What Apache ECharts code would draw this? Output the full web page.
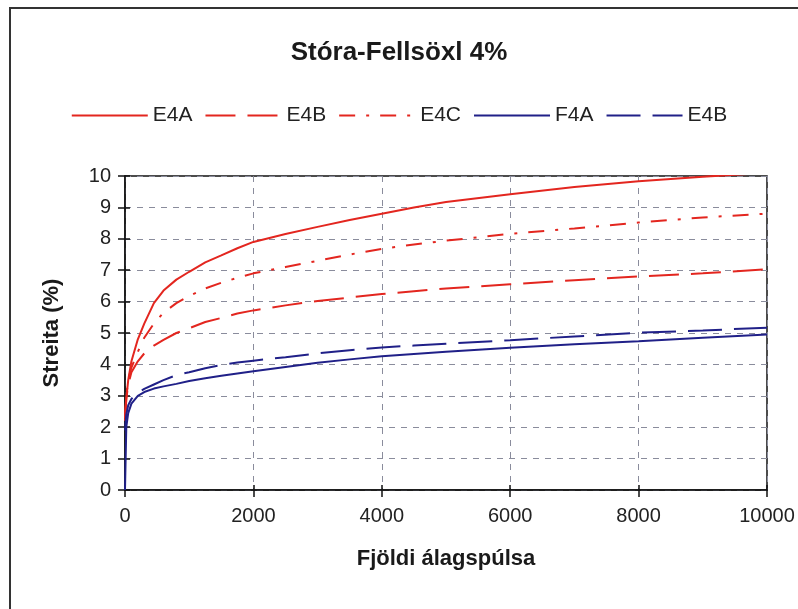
<!DOCTYPE html>
<html>
<head>
<meta charset="utf-8">
<script src="https://cdn.jsdelivr.net/npm/echarts@6/dist/echarts.min.js"></script>
<style>html,body{margin:0;padding:0;background:#fff}#c{width:798px;height:609px}</style>
</head>
<body>
<div id="c"></div>
<script>
const titleText = 'Stóra-Fellsöxl 4%';
const xName = 'Fjöldi álagspúlsa';
const yName = 'Streita (%)';
const pulses = [0, 20, 50, 100, 200, 300, 450, 600, 800, 1000, 1250, 1500, 1750, 2000, 2500, 3000, 3500, 4000, 4500, 5000, 6000, 7000, 8000, 9000, 10000];
const seriesNames = ['E4A', 'E4B', 'E4C', 'F4A', 'E4B '];
const e4a  = [2.3, 2.9, 3.5, 4.1, 4.8, 5.3, 5.95, 6.35, 6.7, 6.95, 7.25, 7.47, 7.7, 7.9, 8.15, 8.38, 8.6, 8.8, 9.0, 9.17, 9.42, 9.65, 9.83, 9.98, 10.1];
const e4b  = [2.2, 2.9, 3.35, 3.75, 4.1, 4.35, 4.6, 4.78, 5.0, 5.15, 5.35, 5.48, 5.62, 5.72, 5.88, 6.02, 6.13, 6.24, 6.33, 6.42, 6.55, 6.68, 6.8, 6.9, 7.03];
const e4c  = [2.3, 3.0, 3.5, 3.9, 4.4, 4.85, 5.3, 5.65, 5.95, 6.18, 6.42, 6.6, 6.76, 6.9, 7.1, 7.3, 7.5, 7.68, 7.82, 7.94, 8.16, 8.33, 8.52, 8.68, 8.8];
const f4a  = [0, 2.0, 2.45, 2.75, 3.0, 3.12, 3.23, 3.3, 3.38, 3.47, 3.56, 3.64, 3.71, 3.78, 3.92, 4.05, 4.16, 4.26, 4.33, 4.4, 4.53, 4.64, 4.74, 4.85, 4.95];
const e4bBlue = [1.9, 2.4, 2.7, 2.9, 3.1, 3.22, 3.36, 3.5, 3.66, 3.75, 3.88, 3.98, 4.06, 4.12, 4.23, 4.35, 4.45, 4.54, 4.6, 4.66, 4.77, 4.89, 5.01, 5.08, 5.17];
const xTicks = [0, 2000, 4000, 6000, 8000, 10000];
const yTicks = [0, 1, 2, 3, 4, 5, 6, 7, 8, 9, 10];

const FONT = 'Liberation Sans, Arial, sans-serif';
const RED = '#e3261f', BLUE = '#202088';
const pair = arr => pulses.map((x, i) => [x, arr[i]]);
const values = [e4a, e4b, e4c, f4a, e4bBlue];
const colors = [RED, RED, RED, BLUE, BLUE];
const dashes = ['solid', [30, 12], [16, 11, 3, 11], 'solid', [34, 12]];

const chart = echarts.init(document.getElementById('c'), null, {renderer: 'canvas'});
const gridLine = {show: true, lineStyle: {color: '#8a8c9c', type: [6, 6], width: 1}};
chart.setOption({
  backgroundColor: '#fff',
  animation: false,
  textStyle: {fontFamily: FONT},
  title: {text: titleText, left: 'center', top: 35,
    textStyle: {fontFamily: FONT, fontSize: 26, fontWeight: 'bold', color: '#1a1a1a'}},
  legend: {top: 100, left: 'center', itemWidth: 76, itemHeight: 14, itemGap: 12,
    formatter: n => n.trim(),
    itemStyle: {opacity: 0, borderWidth: 0},
    lineStyle: {width: 2},
    textStyle: {fontFamily: FONT, fontSize: 21, color: '#222', padding: [0, 0, 0, 0]},
    data: seriesNames},
  graphic: [{type: 'rect', shape: {x: 10, y: 8, width: 820, height: 640},
    style: {fill: 'none', stroke: '#333', lineWidth: 2}, silent: true}],
  grid: {left: 125, right: 31, top: 176, bottom: 119, show: true, borderColor: '#111', borderWidth: 1.5, backgroundColor: 'transparent'},
  xAxis: [{type: 'value', min: 0, max: 10000, interval: 2000,
    name: xName, nameLocation: 'middle', nameGap: 58,
    nameTextStyle: {fontFamily: FONT, fontSize: 22, fontWeight: 'bold', color: '#1a1a1a'},
    axisLine: {show: true, lineStyle: {color: '#111', width: 1.5}},
    axisTick: {show: true, length: 7, lineStyle: {color: '#111', width: 1.5}},
    axisLabel: {margin: 16, fontFamily: FONT, fontSize: 20, color: '#222',
      formatter: v => xTicks.includes(v) ? String(v) : ''},
    splitLine: gridLine},
    {type: 'value', min: 0, max: 10000, interval: 2000, position: 'bottom',
    axisLine: {show: false}, axisTick: {show: true, inside: true, length: 5, lineStyle: {color: '#111', width: 1.5}},
    axisLabel: {show: false}, splitLine: {show: false}}],
  yAxis: [{type: 'value', min: 0, max: 10, interval: 1,
    name: yName, nameLocation: 'middle', nameGap: 62, nameRotate: 90,
    nameTextStyle: {fontFamily: FONT, fontSize: 22, fontWeight: 'bold', color: '#1a1a1a'},
    axisLine: {show: true, lineStyle: {color: '#111', width: 1.5}},
    axisTick: {show: true, length: 7, lineStyle: {color: '#111', width: 1.5}},
    axisLabel: {margin: 14, fontFamily: FONT, fontSize: 20, color: '#222',
      formatter: v => yTicks.includes(v) ? String(v) : ''},
    splitLine: gridLine},
    {type: 'value', min: 0, max: 10, interval: 1, position: 'left',
    axisLine: {show: false}, axisTick: {show: true, inside: true, length: 5, lineStyle: {color: '#111', width: 1.5}},
    axisLabel: {show: false}, splitLine: {show: false}}],
  series: seriesNames.map((n, i) => ({
    name: n, type: 'line', data: pair(values[i]), symbol: 'none', smooth: false,
    clip: true, color: colors[i],
    lineStyle: {color: colors[i], width: 2, type: dashes[i]}
  }))
});
</script>
</body>
</html>
